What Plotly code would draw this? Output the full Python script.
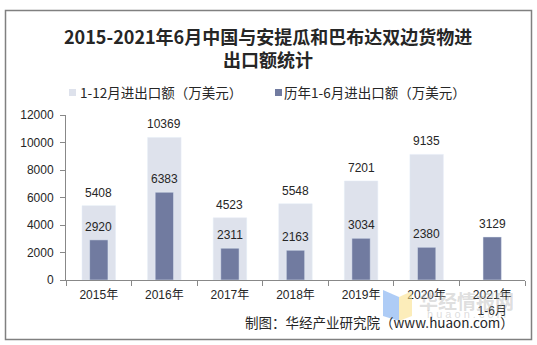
import plotly.graph_objects as go

# Annual and January-June trade values (10k USD)
categories = ["2015年", "2016年", "2017年", "2018年", "2019年", "2020年", "2021年<br>1-6月"]
full_year = [5408, 10369, 4523, 5548, 7201, 9135, None]
first_half = [2920, 6383, 2311, 2163, 3034, 2380, 3129]
y_ticks = [0, 2000, 4000, 6000, 8000, 10000, 12000]

LIGHT = "#dee2ec"
DARK = "#717ba0"
TEXT = "#262626"
NUM_FONT = dict(family="Arial, Liberation Sans, sans-serif", size=12, color=TEXT)
CJK = "Noto Sans CJK SC"

W, H = 537, 345
L, R, T, B = 66, 12, 115, 65
PW, PH = W - L - R, H - T - B


def px(x):
    return (x - L) / PW


def py(y):
    return (H - B - y) / PH


def label(x, y, text, font, xanchor="center"):
    return dict(xref="paper", yref="paper", x=px(x), y=py(y), text=text,
                xanchor=xanchor, yanchor="middle", showarrow=False, font=font)


fig = go.Figure()
fig.add_trace(go.Bar(x=categories, y=full_year, width=0.51, marker_color=LIGHT,
                     name="1-12月进出口额（万美元）", showlegend=False))
fig.add_trace(go.Bar(x=categories, y=first_half, width=0.28, marker_color=DARK,
                     name="历年1-6月进出口额（万美元）", showlegend=False))

annotations = []
for cat, v in zip(categories, full_year):
    if v is not None:
        annotations.append(dict(x=cat, y=v, text=str(v), showarrow=False,
                                yshift=13, yanchor="middle", font=NUM_FONT))
for cat, v in zip(categories, first_half):
    annotations.append(dict(x=cat, y=v, text=str(v), showarrow=False,
                            yshift=13, yanchor="middle", font=NUM_FONT))

# title
title_font = dict(family=CJK, size=18, color=TEXT)
annotations.append(label(268, 36, "<b>2015-2021年6月中国与安提瓜和巴布达双边货物进</b>", title_font))
annotations.append(label(268, 59, "<b>出口额统计</b>", title_font))

# legend
leg_font = dict(family=CJK, size=13.5, color=TEXT)
annotations.append(label(78, 92, "1-12月进出口额（万美元）", leg_font, "left"))
annotations.append(label(282, 92, "历年1-6月进出口额（万美元）", leg_font, "left"))

# watermark
annotations.append(label(466, 300, "<b>华经情报网</b>",
                         dict(family=CJK, size=19, color="rgba(170,170,170,0.4)")))
annotations.append(label(466, 314, "h u a o n . c o m",
                         dict(family="Arial", size=11, color="rgba(170,170,170,0.4)")))

# source
annotations.append(label(516, 322, "制图：华经产业研究院（www.huaon.com）",
                         dict(family=CJK, size=13.5, color=TEXT), "right"))

shapes = [
    # outer frame
    dict(type="rect", xref="paper", yref="paper", x0=px(5.5), x1=px(531.5),
         y0=py(339.5), y1=py(10.5), line=dict(color="#808080", width=1.5), layer="below"),
    # legend swatches
    dict(type="rect", xref="paper", yref="paper", x0=px(69), x1=px(76), y0=py(96), y1=py(89),
         fillcolor=LIGHT, line=dict(width=0)),
    dict(type="rect", xref="paper", yref="paper", x0=px(275), x1=px(282), y0=py(96), y1=py(89),
         fillcolor=DARK, line=dict(width=0)),
    # watermark logo
    dict(type="path", xref="paper", yref="paper",
         path=f"M {px(383)},{py(290)} L {px(399)},{py(297)} L {px(399)},{py(321)} L {px(383)},{py(316)} Z",
         fillcolor="rgba(120,170,240,0.6)", line=dict(width=0)),
    dict(type="path", xref="paper", yref="paper",
         path=f"M {px(399)},{py(297)} L {px(412)},{py(291)} L {px(412)},{py(316)} L {px(399)},{py(321)} Z",
         fillcolor="rgba(250,225,140,0.6)", line=dict(width=0)),
]

fig.update_layout(
    width=W, height=H,
    margin=dict(l=L, r=R, t=T, b=B),
    paper_bgcolor="white", plot_bgcolor="white",
    barmode="overlay",
    showlegend=False,
    annotations=annotations,
    shapes=shapes,
    font=dict(family=CJK, color=TEXT),
)
fig.update_xaxes(
    showline=True, linecolor="#888888", linewidth=1,
    ticks="outside", tickson="boundaries", ticklen=5, tickcolor="#888888",
    tickfont=dict(family="Arial, " + CJK, size=12, color=TEXT),
    ticklabelstandoff=4,
    showgrid=False,
)
fig.update_yaxes(
    range=[0, 12000], tickvals=y_ticks, tickformat="d",
    showline=True, linecolor="#888888", linewidth=1,
    ticks="outside", ticklen=5, tickcolor="#888888",
    tickfont=NUM_FONT, ticklabelstandoff=4, showgrid=False, zeroline=False,
)

fig.write_html("out.html")
